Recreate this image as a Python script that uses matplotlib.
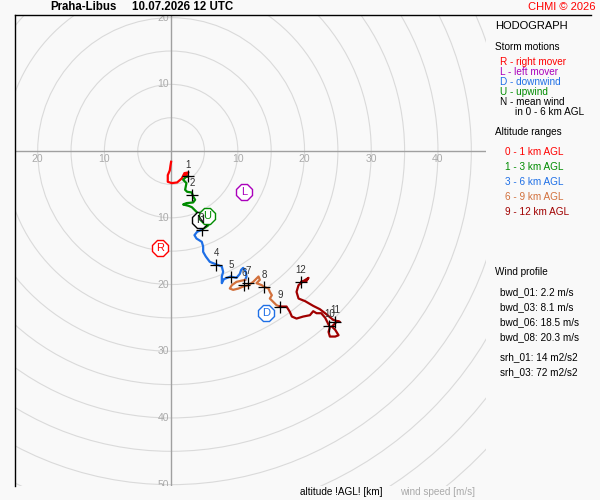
import matplotlib.pyplot as plt
from matplotlib.patches import Circle
from matplotlib.lines import Line2D

plt.rcParams['font.family'] = ['Liberation Sans', 'DejaVu Sans']

# hodograph trace (u, v in m/s), one piece per altitude range
u_0_1 = [0.0, -0.1, -0.2, -0.5, -0.5, 0.1, 0.9, 1.6, 2.0, 2.6, 2.1, 2.5]
v_0_1 = [-1.6, -2.2, -2.9, -3.6, -4.6, -4.8, -4.7, -4.1, -3.3, -3.2, -3.7, -3.8]

u_1_3 = [2.5, 2.2, 1.8, 2.3, 2.1, 2.4, 3.1, 3.3, 3.6, 3.3, 2.3, 1.8, 2.6, 3.1,
         3.8, 4.4, 5.1, 5.6, 5.2, 4.7, 4.6]
v_1_3 = [-3.8, -3.9, -4.3, -4.8, -5.8, -6.1, -6.2, -6.8, -7.3, -7.7, -7.8, -8.0,
         -8.2, -8.4, -9.1, -9.8, -10.4, -11.1, -11.4, -11.7, -11.8]

u_3_6 = [4.6, 3.9, 3.5, 3.8, 4.6, 4.8, 4.8, 5.2, 5.8, 6.8, 7.6, 7.8, 7.6, 7.6,
         7.9, 8.4, 8.9, 9.8, 10.3, 10.5, 10.8, 11.2, 11.3, 11.1]
v_3_6 = [-11.8, -12.1, -12.6, -13.1, -13.6, -14.3, -15.1, -15.8, -16.6, -17.0,
         -17.3, -18.1, -18.8, -19.8, -19.2, -19.0, -18.8, -19.0, -18.4, -17.8,
         -17.5, -18.1, -18.8, -19.3]

u_6_9 = [11.1, 9.8, 9.1, 8.8, 9.3, 10.1, 10.8, 11.6, 12.3, 13.1, 13.3, 12.8,
         13.6, 13.8, 14.6, 14.8, 15.1, 14.8, 15.3, 15.8, 16.3]
v_6_9 = [-19.3, -19.6, -20.1, -20.6, -20.8, -20.6, -20.3, -20.1, -19.6, -18.8,
         -19.3, -19.8, -20.1, -20.3, -20.6, -21.1, -21.6, -22.1, -22.6, -23.1,
         -23.3]

u_9_12 = [16.3, 17.3, 17.8, 18.1, 18.8, 19.8, 20.8, 21.3, 21.8, 22.5, 23.1,
          23.5, 23.8, 23.6, 23.8, 24.6, 25.1, 24.6, 24.1, 24.8, 25.3, 24.3,
          23.2, 22.3, 21.3, 20.1, 19.1, 18.8, 19.1, 19.8, 20.6, 20.2, 19.5]
v_9_12 = [-23.3, -23.3, -24.1, -24.8, -25.1, -24.8, -24.6, -24.0, -24.3, -24.3,
          -25.0, -25.8, -26.4, -27.1, -27.8, -27.8, -27.6, -26.8, -26.3, -25.6,
          -25.6, -25.3, -24.4, -23.7, -23.2, -22.5, -22.1, -21.1, -20.1, -19.5,
          -19.0, -19.6, -19.6]

band_labels = ['0 - 1 km AGL', '1 - 3 km AGL', '3 - 6 km AGL', '6 - 9 km AGL',
               '9 - 12 km AGL']
band_colors = ['#ff0000', '#008c00', '#1e6fe6', '#d2703c', '#a00000']

# altitude marks every km
alt_labels = ['1', '2', '3', '4', '5', '6', '7', '8', '9', '10', '11', '12']
alt_u = [2.5, 3.1, 4.6, 6.8, 9.0, 10.9, 11.6, 13.9, 16.3, 23.7, 24.6, 19.4]
alt_v = [-3.8, -6.6, -11.8, -17.1, -18.9, -20.1, -19.8, -20.4, -23.4, -26.2,
         -25.6, -19.6]

# storm motions
storm_names = ['R', 'L', 'D', 'N', 'U']
storm_u = [-1.7, 10.9, 14.2, 4.4, 5.4]
storm_v = [-14.6, -6.2, -24.3, -10.3, -9.8]
storm_colors = ['#ff0000', '#aa00bb', '#1e6fe6', '#000000', '#008c00']

storm_text = ['R - right mover', 'L - left mover', 'D - downwind', 'U - upwind',
              'N - mean wind']
storm_text_colors = ['#ff0000', '#aa00bb', '#1e6fe6', '#008c00', '#000000']

profile_text = ['bwd_01: 2.2 m/s', 'bwd_03: 8.1 m/s', 'bwd_06: 18.5 m/s',
                'bwd_08: 20.3 m/s']
srh_text = ['srh_01: 14 m2/s2', 'srh_03: 72 m2/s2']

bg = '#f9f9f9'
fig = plt.figure(figsize=(6, 5), dpi=100, facecolor=bg)
ax = fig.add_axes([15 / 600, 14 / 500, 471 / 600, 471 / 500], facecolor=bg)
ax.set_xlim(-23.4, 47.2)
ax.set_ylim(-50.2, 20.4)
ax.set_xticks([])
ax.set_yticks([])
for s in ['right', 'bottom']:
    ax.spines[s].set_visible(False)
ax.spines['left'].set_linewidth(1)
ax.spines['top'].set_visible(False)

for r in range(5, 75, 5):
    ax.add_patch(Circle((0, 0), r, fill=False, ec='#dadada', lw=0.8))
ax.axhline(0, color='#a0a0a0', lw=1)
ax.axvline(0, color='#a0a0a0', lw=1)

# ring labels on the axes
for r in [10, 20, 30, 40]:
    for x in [-r, r]:
        if -23 < x < 46:
            ax.text(x, -1.2, str(r), color='#aaaaaa', fontsize=7.5,
                    ha='center', va='center', clip_on=True)
for r in [20, 10, -10, -20, -30, -40, -50]:
    ax.text(-0.3, r, str(abs(r)), color='#aaaaaa', fontsize=7.5,
            ha='right', va='center', clip_on=True)

for uu, vv, c in zip([u_0_1, u_1_3, u_3_6, u_6_9, u_9_12],
                     [v_0_1, v_1_3, v_3_6, v_6_9, v_9_12], band_colors):
    ax.plot(uu, vv, color=c, lw=1.6, solid_joinstyle='round')

ax.plot(alt_u, alt_v, '+', color='black', ms=9, mew=0.9, ls='none')
for lab, x, y in zip(alt_labels, alt_u, alt_v):
    ax.annotate(lab, (x, y), xytext=(0, 5), textcoords='offset points',
                ha='center', va='bottom', fontsize=7, color='#333333')

for name, x, y, c in zip(storm_names, storm_u, storm_v, storm_colors):
    ax.plot(x, y, marker='8', ms=12, mfc='white', mec=c, mew=1, ls='none')
    ax.text(x, y, name, color=c, fontsize=8, ha='center', va='center')


def ftext(x, y, s, **kw):
    fig.text(x / 600, 1 - y / 500, s, va='center', **kw)


fig.add_artist(Line2D([15 / 600, 591 / 600], [1 - 15 / 500, 1 - 15 / 500],
                      color='black', lw=1))

ftext(50, 7, 'Praha-Libus', fontsize=8.3, fontweight='bold')
ftext(132, 7, '10.07.2026 12 UTC', fontsize=8.3, fontweight='bold')
ftext(596, 7, 'CHMI © 2026', fontsize=8, color='#ff0000', ha='right')

ftext(495, 26, 'HODOGRAPH', fontsize=8)
ftext(495, 47, 'Storm motions', fontsize=7.2)
for i, (s, c) in enumerate(zip(storm_text, storm_text_colors)):
    ftext(500, 62 + 10 * i, s, fontsize=7.2, color=c)
ftext(515, 112, 'in 0 - 6 km AGL', fontsize=7.2)

ftext(495, 132, 'Altitude ranges', fontsize=7.2)
for i, (s, c) in enumerate(zip(band_labels, band_colors)):
    ftext(505, 152 + 15 * i, s, fontsize=7.2, color=c)

ftext(495, 272, 'Wind profile', fontsize=7.2)
for i, s in enumerate(profile_text):
    ftext(500, 292 + 15 * i, s, fontsize=7.2)
for i, s in enumerate(srh_text):
    ftext(500, 357 + 15 * i, s, fontsize=7.2)

ftext(300, 492, 'altitude !AGL! [km]', fontsize=7.2)
ftext(400, 492, 'wind speed [m/s]', fontsize=7.2, color='#aaaaaa')

fig.savefig('out.png', dpi=100, facecolor=bg)
